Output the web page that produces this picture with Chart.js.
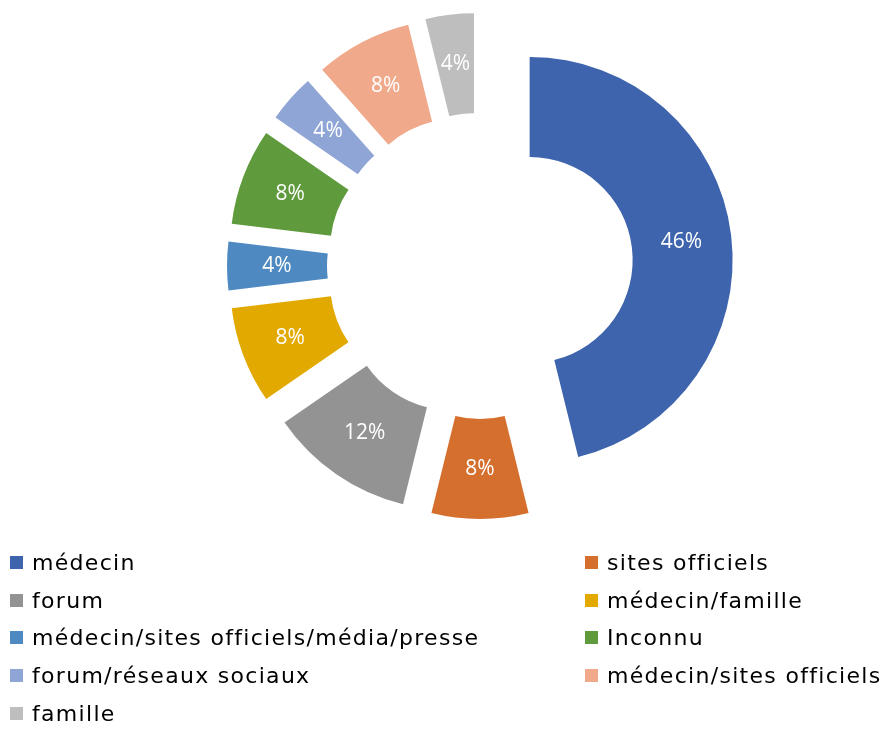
<!DOCTYPE html>
<html>
<head>
<meta charset="utf-8">
<script src="https://cdn.jsdelivr.net/npm/chart.js@4.4.1/dist/chart.umd.min.js"></script>
<style>
  html, body { margin: 0; padding: 0; background: #fff; }
  #wrap { position: relative; width: 884px; height: 729px; }
  #chart { position: absolute; left: 0; top: 0; }
  #legend {
    position: absolute; left: 0; top: 544px; width: 884px;
    font-family: "DejaVu Sans", sans-serif;
    font-size: 22px; letter-spacing: 1.3px; color: #000;
  }
  .item { position: absolute; height: 38px; line-height: 38px; white-space: nowrap; }
  .box { position: absolute; left: 0; top: 12px; width: 13px; height: 13px; }
  .txt { position: absolute; left: 22px; top: 0; }
</style>
</head>
<body>
<div id="wrap">
  <canvas id="chart" width="884" height="729"></canvas>
  <div id="legend"></div>
</div>
<script>
const categories = [
  "médecin", "sites officiels", "forum", "médecin/famille",
  "médecin/sites officiels/média/presse", "Inconnu",
  "forum/réseaux sociaux", "médecin/sites officiels", "famille"
];
// nombre de réponses (26 au total)
const counts = [12, 2, 3, 2, 1, 2, 1, 2, 1];
const colors = [
  "#3d64ad", "#d46f2d", "#939393", "#e2aa00",
  "#4e8ac1", "#5f9a3c", "#8fa5d5", "#f0a98b", "#bebebe"
];

const OUTER = 203;
const INNER = 103;
const EXPLODE = 50;

const total = counts.reduce((a, b) => a + b, 0);

// Chart.js grows and narrows offset arcs; undo that so every slice keeps
// its size and angle and is only pushed out, like an exploded pie
const explodeFix = {
  id: "explodeFix",
  afterUpdate(chart) {
    chart.getDatasetMeta(0).data.forEach(arc => {
      const fix = 1 - Math.sin(Math.min(Math.PI, arc.circumference));
      const ro = EXPLODE * fix;
      arc.outerRadius = OUTER - ro;
      arc.innerRadius = INNER - ro;
      const widen = ro / Math.PI / OUTER / 2;
      arc.startAngle -= widen;
      arc.endAngle += widen;
    });
  }
};

const pctLabels = {
  id: "pctLabels",
  afterDatasetsDraw(chart) {
    const ctx = chart.ctx;
    ctx.save();
    ctx.fillStyle = "#ffffff";
    ctx.font = "normal 400 21px 'Open Sans', sans-serif";
    ctx.textAlign = "center";
    ctx.textBaseline = "middle";
    chart.getDatasetMeta(0).data.forEach((arc, i) => {
      const mid = (arc.startAngle + arc.endAngle) / 2;
      const r = (OUTER + INNER) / 2 + EXPLODE;
      const x = arc.x + Math.cos(mid) * r;
      const y = arc.y + Math.sin(mid) * r;
      ctx.fillText(Math.round(counts[i] / total * 100) + "%", x, y);
    });
    ctx.restore();
  }
};

new Chart(document.getElementById("chart"), {
  type: "doughnut",
  data: {
    labels: categories,
    datasets: [{
      data: counts,
      backgroundColor: colors,
      borderWidth: 0,
      offset: EXPLODE * 4
    }]
  },
  options: {
    responsive: false,
    animation: false,
    radius: OUTER,
    cutout: (INNER / OUTER * 100) + "%",
    layout: { padding: { left: 230, right: 154, top: 16, bottom: 213 } },
    plugins: {
      legend: { display: false },
      tooltip: { enabled: false }
    }
  },
  plugins: [explodeFix, pctLabels]
});

// legend in two columns
const legend = document.getElementById("legend");
categories.forEach((name, i) => {
  const col = i % 2;
  const row = Math.floor(i / 2);
  const item = document.createElement("div");
  item.className = "item";
  item.style.left = (col === 0 ? 10 : 585) + "px";
  item.style.top = (row * 37.7) + "px";
  item.innerHTML = `<span class="box" style="background:${colors[i]}"></span><span class="txt">${name}</span>`;
  legend.appendChild(item);
});
</script>
</body>
</html>
